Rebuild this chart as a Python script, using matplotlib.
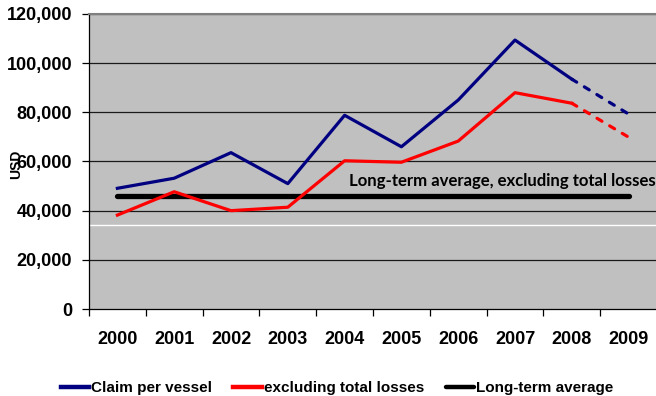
import matplotlib
matplotlib.use("Agg")
import matplotlib.pyplot as plt
from matplotlib.ticker import FuncFormatter, MultipleLocator

years = ["2000", "2001", "2002", "2003", "2004", "2005", "2006", "2007", "2008", "2009"]
claim_per_vessel = [49100, 53200, 63600, 51000, 78800, 66000, 85000, 109400, 93500, 79300]
excl_total_losses = [38200, 47700, 40000, 41400, 60300, 59700, 68300, 88000, 83700, 69900]
long_term_average = 46100
white_rule = 34200
avg_label = "Long-term average, excluding total losses"

BLUE = "#000080"
RED = "#FF0000"

fig = plt.figure(figsize=(6.56, 3.96), dpi=100)
ax = fig.add_axes([89 / 656, 1 - 309 / 396, 568 / 656, (309 - 14) / 396])
ax.set_facecolor("#C0C0C0")

x = list(range(len(years)))
n_actual = 9  # last point is a forecast

# gridlines
for v in range(20000, 120001, 20000):
    ax.axhline(v, color="#1a1a1a", lw=0.9, zorder=1)
ax.axhline(white_rule, color="white", lw=1.0, zorder=1)

# long-term average
ax.plot([0, 9], [long_term_average] * 2, color="black", lw=3.8,
        solid_capstyle="round", zorder=3, label="Long-term average")

# actual series
ax.plot(x[:n_actual], claim_per_vessel[:n_actual], color=BLUE, lw=2.3,
        zorder=4, label="Claim per vessel")
ax.plot(x[:n_actual], excl_total_losses[:n_actual], color=RED, lw=2.3,
        zorder=4, label="excluding total losses")
# forecast segments
dash = (0, (1.8, 2.8))
ax.plot(x[n_actual - 1:], claim_per_vessel[n_actual - 1:], color=BLUE, lw=2.3,
        ls=dash, dash_capstyle="round", zorder=4)
ax.plot(x[n_actual - 1:], excl_total_losses[n_actual - 1:], color=RED, lw=2.3,
        ls=dash, dash_capstyle="round", zorder=4)

ax.text(4.08, 52000, avg_label, fontfamily="Lato", fontweight="bold",
        fontsize=12.1, color="black", va="center", ha="left", zorder=5,
        clip_on=False)

ax.set_xlim(-0.5, 9.5)
ax.set_ylim(0, 120000)

ax.set_xticks(x)
ax.set_xticklabels(years)
ax.set_xticks([i - 0.5 for i in range(len(years) + 1)], minor=True)
ax.tick_params(axis="x", which="major", length=0, pad=16)
ax.tick_params(axis="x", which="minor", length=5, width=0.9, direction="out")
ax.yaxis.set_major_locator(MultipleLocator(20000))
ax.yaxis.set_major_formatter(FuncFormatter(lambda v, p: f"{int(v):,}"))
ax.tick_params(axis="y", length=5, width=0.9, pad=7)
for lbl in ax.get_xticklabels() + ax.get_yticklabels():
    lbl.set_fontfamily("Liberation Sans")
    lbl.set_fontweight("bold")
    lbl.set_fontsize(13)

for s in ["left", "bottom"]:
    ax.spines[s].set_color("black")
    ax.spines[s].set_linewidth(0.9)
ax.spines["top"].set_color("#7f7f7f")
ax.spines["top"].set_linewidth(1.5)
ax.spines["right"].set_visible(False)

fig.text(16 / 656, 1 - 164 / 396, "USD", rotation=90, ha="center", va="center",
         fontfamily="Liberation Sans", fontweight="bold", fontsize=10)

handles, labels = ax.get_legend_handles_labels()
order = [1, 2, 0]
leg = fig.legend([handles[i] for i in order], [labels[i] for i in order],
                 loc="center", bbox_to_anchor=(337 / 656, 1 - 388 / 396),
                 ncol=3, frameon=False, handlelength=1.85, handletextpad=0.15,
                 columnspacing=1.4,
                 prop={"family": "Liberation Sans", "weight": "bold", "size": 11})
for h in leg.get_lines():
    h.set_linewidth(3.2)

fig.savefig("out.png", dpi=100)
